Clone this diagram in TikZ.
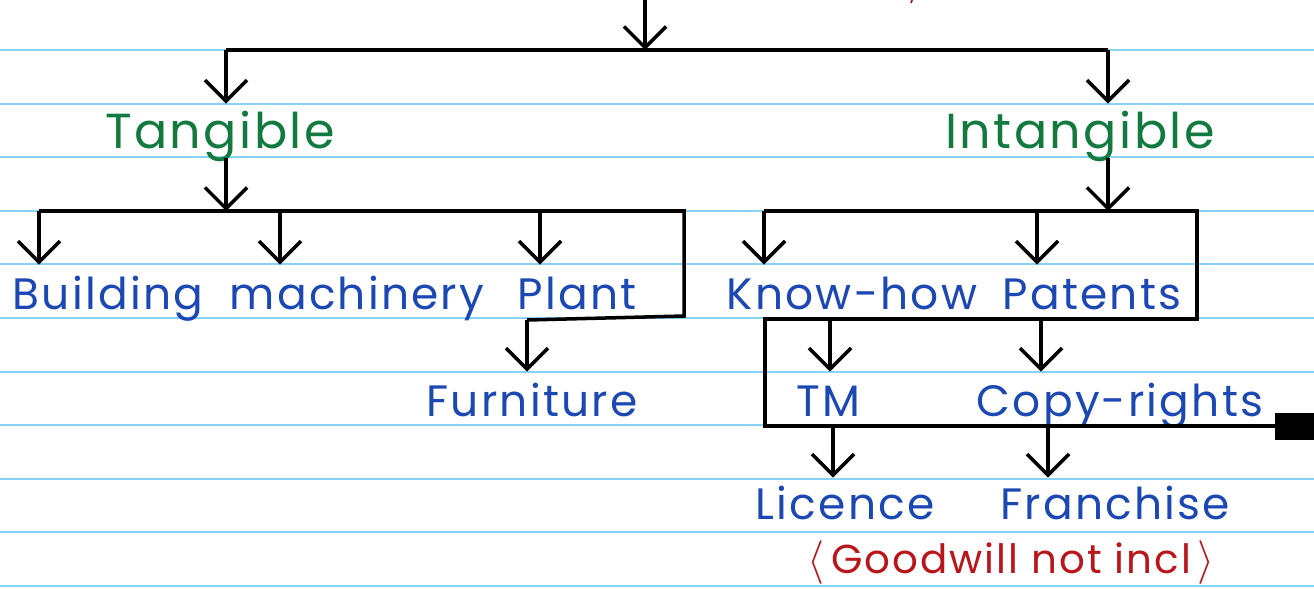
\documentclass[tikz,border=0pt]{standalone}
\usepackage{fontspec}
\setmainfont{Poppins}[LetterSpace=5]
\usetikzlibrary{arrows.meta,calc}

\definecolor{inkgreen}{RGB}{18,122,62}
\definecolor{inkblue}{RGB}{28,72,180}
\definecolor{inkred}{RGB}{185,22,28}
\definecolor{ruleblue}{RGB}{135,210,245}

\tikzset{
  link/.style={line width=2pt, black},
  arr/.style={link, -{Straight Barb[length=12pt,width=24pt]}},
  rule/.style={ruleblue, line width=1.2pt},
  lbl/.style={anchor=base, inner sep=0pt, text height=0.88cm, text depth=0.1cm,
    font=\fontsize{25}{28}\selectfont},
  grnlbl/.style={lbl, text=inkgreen, text depth=0.2cm, font=\fontsize{28}{30}\selectfont},
  blulbl/.style={lbl, text=inkblue},
  notelbl/.style={lbl, text=inkred, text height=0.5cm, text depth=0.1cm,
    font=\fontsize{23}{26}\selectfont},
}

\begin{document}
\begin{tikzpicture}[x=0.02cm, y=-0.02cm]
  \useasboundingbox (0,0) rectangle (1314,588);

  % ruled paper
  \foreach \k in {0,...,10}
    \draw[rule] (0,{50+53.6*\k}) -- (1314,{50+53.6*\k});

  % labels
  \node[grnlbl] (tang)   at (220,148)  {Tangible};
  \node[grnlbl] (intang) at (1080,148) {Intangible};
  \node[blulbl] (bldg)   at (108,309)  {Building};
  \node[blulbl] (mach)   at (357,309)  {machinery};
  \node[blulbl] (plant)  at (577,309)  {Plant};
  \node[blulbl] (know)   at (852,309)  {Know-how};
  \node[blulbl] (pat)    at (1092,309) {Patents};
  \node[blulbl] (furn)   at (532,416)  {Furniture};
  \node[blulbl] (tm)     at (828,416)  {TM};
  \node[blulbl] (copy)   at (1120,416) {Copy-rights};
  \node[blulbl, text height=0.82cm] (lic)  at (845,519)  {Licence};
  \node[blulbl, text height=0.82cm] (fran) at (1115,519) {Franchise};
  \node[notelbl] (gw) at (1011,573)
    {$\langle$\,Goodwill not incl\,$\rangle$};

  % top split
  \coordinate (src) at (645,0);
  \coordinate (hub) at (645,50);
  \coordinate (tj)  at (226,50);
  \coordinate (ij)  at (1108,50);
  \coordinate (tb)  at (226,211);
  \coordinate (ib)  at (1108,211);
  \draw[arr] (src) -- (hub);
  \draw[link] (tj) -- (ij);
  \draw[arr] (tj) -- (tj |- tang.north);
  \draw[arr] (ij) -- (ij |- intang.north);
  \draw[arr] (tang.south -| tb) -- (tb);
  \draw[arr] (intang.south -| ib) -- (ib);

  % tangible branch
  \coordinate (b1) at (39,211);
  \coordinate (b2) at (280,211);
  \coordinate (b3) at (540,211);
  \coordinate (b4) at (527,320);
  \draw[link] (b1) -- (684,211) -- (684,316) -- (b4);
  \draw[arr] (b1) -- (b1 |- bldg.north);
  \draw[arr] (b2) -- (b2 |- mach.north);
  \draw[arr] (b3) -- (b3 |- plant.north);
  \draw[arr] (b4) -- (b4 |- furn.north);

  % intangible branch
  \coordinate (i1) at (764,211);
  \coordinate (i2) at (1037,211);
  \coordinate (i3) at (830,319);
  \coordinate (i4) at (1041,319);
  \coordinate (i5) at (833,426);
  \coordinate (i6) at (1048,426);
  \draw[link] (i1) -- (1197,211) -- (1197,319) -- (765,319) -- (765,426) -- (1275,426);
  \fill (1275,413) rectangle (1314,440);
  \draw[arr] (i1) -- (i1 |- know.north);
  \draw[arr] (i2) -- (i2 |- pat.north);
  \draw[arr] (i3) -- (i3 |- tm.north);
  \draw[arr] (i4) -- (i4 |- copy.north);
  \draw[arr] (i5) -- (i5 |- lic.north);
  \draw[arr] (i6) -- (i6 |- fran.north);

  % red stroke cut at the top edge
  \draw[inkred, line width=1pt] (912,0) -- (911,3);
\end{tikzpicture}
\end{document}
